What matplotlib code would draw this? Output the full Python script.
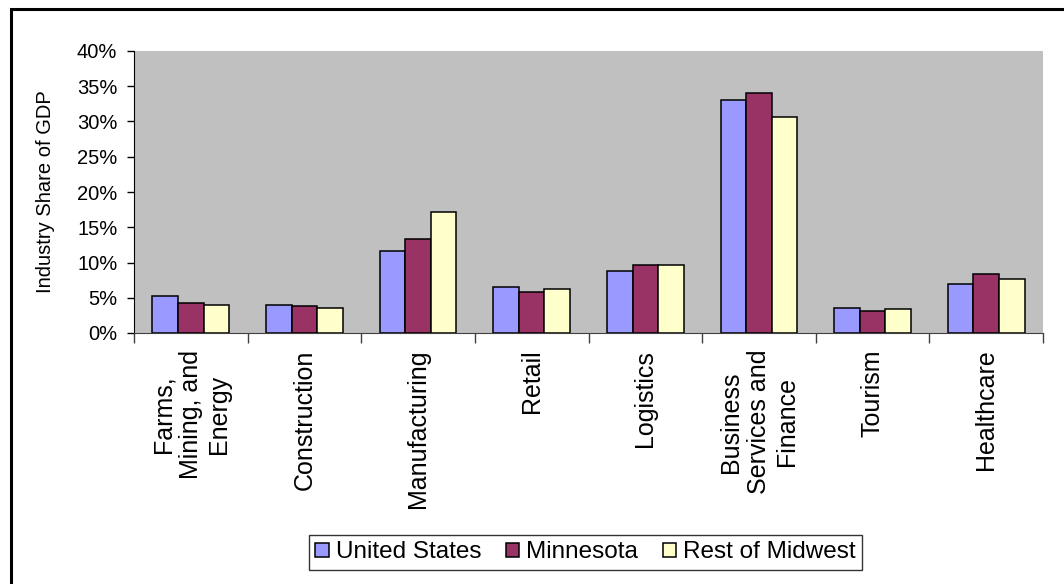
import numpy as np
import matplotlib
matplotlib.use("Agg")
import matplotlib.pyplot as plt
from matplotlib.patches import Rectangle
from matplotlib.ticker import PercentFormatter, FixedLocator

plt.rcParams['font.family'] = ['Liberation Sans', 'DejaVu Sans']

categories = ["Farms,\nMining, and\nEnergy", "Construction", "Manufacturing", "Retail",
              "Logistics", "Business\nServices and\nFinance", "Tourism", "Healthcare"]
series_names = ["United States", "Minnesota", "Rest of Midwest"]
united_states = [5.3, 4.0, 11.7, 6.5, 8.8, 33.0, 3.6, 6.9]
minnesota = [4.25, 3.8, 13.3, 5.8, 9.7, 34.1, 3.1, 8.3]
rest_of_midwest = [4.0, 3.6, 17.1, 6.3, 9.7, 30.7, 3.35, 7.65]
y_ticks = [0, 5, 10, 15, 20, 25, 30, 35, 40]

colors = ["#9999FF", "#993366", "#FFFFCC"]

fig = plt.figure(figsize=(10.64, 5.84), dpi=100)
ax = fig.add_axes([134/1064, 1 - 333/584, (1043 - 134)/1064, (333 - 51)/584])
ax.set_facecolor("#C0C0C0")

x = np.arange(len(categories))
w = 0.225
for i, (vals, name, c) in enumerate(zip([united_states, minnesota, rest_of_midwest], series_names, colors)):
    ax.bar(x + (i - 1) * w, vals, width=w, color=c, edgecolor="black", linewidth=1.1, label=name)

ax.set_xlim(-0.5, len(categories) - 0.5)
ax.set_ylim(0, 40)
ax.set_yticks(y_ticks)
ax.yaxis.set_major_formatter(PercentFormatter(decimals=0))
ax.tick_params(axis='y', direction='out', length=5, width=1, labelsize=14.5, pad=7, colors='black')

# category labels at centres, boundary ticks as minor ticks
ax.set_xticks(x)
ax.set_xticklabels(categories, rotation=90, fontsize=18, multialignment='center', va='top', ha='center')
ax.tick_params(axis='x', which='major', length=0, pad=12)
ax.xaxis.set_minor_locator(FixedLocator(np.arange(-0.5, len(categories), 1.0)))
ax.tick_params(axis='x', which='minor', direction='out', length=7, width=1, color='#404040')

for s in ['top', 'right']:
    ax.spines[s].set_visible(False)
ax.spines['left'].set_color('black')
ax.spines['bottom'].set_color('#404040')

ax.set_ylabel("Industry Share of GDP", fontsize=14.5)
ax.yaxis.set_label_coords(-0.087, 0.5)

leg = fig.legend(loc='center', bbox_to_anchor=(585.5/1064, 1 - 552.5/584), ncol=3,
                 fontsize=17.5, frameon=True, fancybox=False, edgecolor='black',
                 handlelength=0.55, handleheight=0.55, handletextpad=0.3,
                 columnspacing=1.0, borderpad=0.25, borderaxespad=0)
leg.get_frame().set_linewidth(1.0)

# outer frame around the figure
fig.patches.append(Rectangle((11/1064, -0.1), 1.2, (584 - 9)/584 + 0.1, transform=fig.transFigure,
                             fill=False, edgecolor='black', linewidth=2.2, clip_on=False))

fig.savefig("out.png", dpi=100, facecolor='white')
